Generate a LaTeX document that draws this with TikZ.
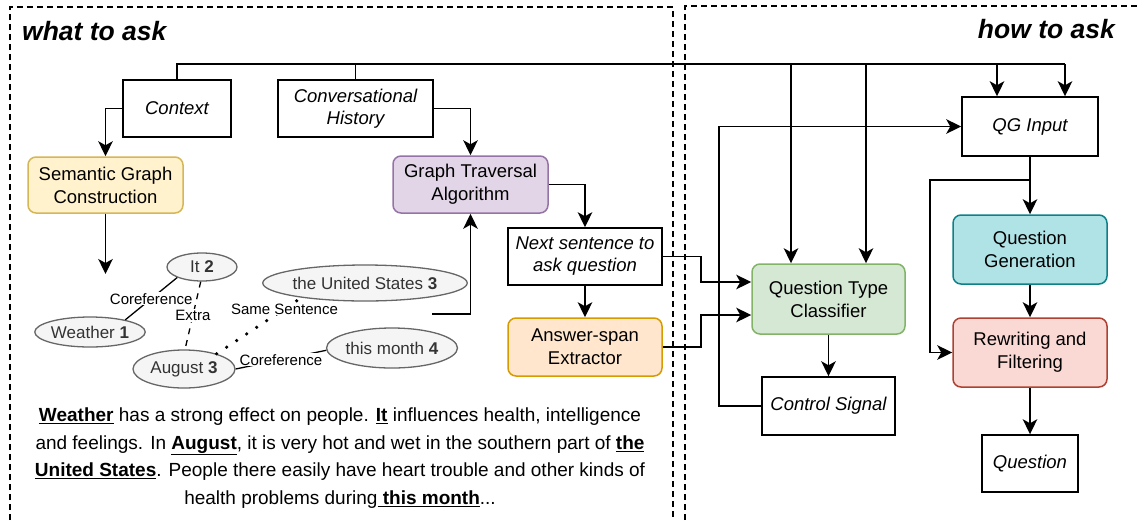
\documentclass[tikz,border=0pt]{standalone}
\usepackage{fontspec}
\setmainfont{Liberation Sans}
\usetikzlibrary{arrows.meta,calc,shapes.geometric}
\definecolor{yelF}{HTML}{FFF2CC}\definecolor{yelD}{HTML}{D6B656}
\definecolor{purF}{HTML}{E1D5E7}\definecolor{purD}{HTML}{9673A6}
\definecolor{oraF}{HTML}{FFE6CC}\definecolor{oraD}{HTML}{D79B00}
\definecolor{greF}{HTML}{D5E8D4}\definecolor{greD}{HTML}{82B366}
\definecolor{teaF}{HTML}{B0E3E6}\definecolor{teaD}{HTML}{0E8088}
\definecolor{redF}{HTML}{FAD9D5}\definecolor{redD}{HTML}{AE4132}
\definecolor{ellF}{HTML}{F5F5F5}\definecolor{ellD}{HTML}{666666}
\definecolor{ellT}{HTML}{333333}
\begin{document}
\begin{tikzpicture}[x=1pt,y=-1pt,line width=1.6pt,
  arr/.style={-{Stealth[length=15pt,width=14.5pt,inset=4pt]}},
  pbox/.style={draw,line width=1.5pt,font=\fontsize{18.5}{22}\selectfont\itshape,align=center,inner sep=0pt},
  rbox/.style={draw,rounded corners=8pt,line width=1.5pt,font=\fontsize{18.5}{23}\selectfont,align=center,inner sep=0pt},
  ell/.style={ellipse,draw=ellD,fill=ellF,line width=1.3pt,text=ellT,inner sep=0pt,font=\fontsize{17}{20}\selectfont},
  elab/.style={fill=white,inner sep=1pt,font=\fontsize{15}{17}\selectfont},
  frame/.style={dash pattern=on 6pt off 4pt,line width=1.4pt},
  title/.style={font=\fontsize{26.5}{30}\selectfont\bfseries\itshape}]
\useasboundingbox (0,0) rectangle (1140,520);
\clip (0,0) rectangle (1140,520);
% frames
\draw[frame] (10,540) -- (10,7) -- (673,7) -- (673,540);
\draw[frame] (685,540) -- (685,6) -- (1150,6);
\node[title,anchor=west] (t1) at (18,31) {what to ask};
\node[title,anchor=east] (t2) at (1119,29) {how to ask};
% nodes
\node[pbox,minimum width=108,minimum height=57] (ctx) at (177,108.5) {Context};
\node[pbox,minimum width=155,minimum height=57] (conv) at (355.5,108.5) {Conversational\\History};
\node[rbox,fill=yelF,draw=yelD,minimum width=155,minimum height=56] (sgc) at (105.5,185) {Semantic Graph\\Construction};
\node[rbox,fill=purF,draw=purD,minimum width=155,minimum height=57] (gta) at (470.5,184.5) {Graph Traversal\\Algorithm};
\node[pbox,minimum width=154,minimum height=57] (next) at (585,256.5) {Next sentence to\\ask question};
\node[rbox,fill=oraF,draw=oraD,minimum width=154,minimum height=58] (ase) at (585,347) {Answer-span\\Extractor};
\node[rbox,fill=greF,draw=greD,minimum width=153,minimum height=70] (qtc) at (828.5,299) {Question Type\\Classifier};
\node[pbox,minimum width=133,minimum height=58] (cs) at (828.5,406) {Control Signal};
\node[pbox,minimum width=136,minimum height=59] (qgi) at (1030,126.5) {QG Input};
\node[rbox,fill=teaF,draw=teaD,minimum width=154,minimum height=69] (qg) at (1030,249.5) {Question\\Generation};
\node[rbox,fill=redF,draw=redD,minimum width=154,minimum height=69] (rf) at (1030,352.5) {Rewriting and\\Filtering};
\node[pbox,minimum width=96,minimum height=57] (q) at (1030,463.5) {Question};
% graph
\node[ell,minimum width=70,minimum height=28] (it) at (202,267) {It \textbf{2}};
\node[ell,minimum width=105,minimum height=30] (wea) at (90,332) {Weather \textbf{1}};
\node[ell,minimum width=180,minimum height=36] (us) at (365,283) {the United States \textbf{3}};
\node[ell,minimum width=102,minimum height=38] (aug) at (184,369) {August \textbf{3}};
\node[ell,minimum width=127,minimum height=40] (tm) at (392,348) {this month \textbf{4}};
\draw[line width=1.3pt] (it.203) -- node[elab] {Coreference} (wea.19);
\draw[line width=1.3pt,dash pattern=on 6pt off 6pt] (it.265) -- node[elab] {Extra} (aug.87);
\draw[line width=3.6pt,line cap=round,dash pattern=on 0pt off 12pt] (aug.25) -- node[elab,pos=0.8] {Same Sentence} (us.193);
\draw[line width=1.3pt] (aug.east) -- node[elab] {Coreference} (tm.182);
% paragraph
\node[font=\fontsize{19}{27.5}\selectfont,align=center] (para) at (340,458)
 {\underline{\textbf{Weather}} has a strong effect on people. \underline{\textbf{It}} influences health, intelligence\\
  and feelings. In \underline{\textbf{August}}, it is very hot and wet in the southern part of \underline{\textbf{the}}\\
  \underline{\textbf{United States}}. People there easily have heart trouble and other kinds of\\
  health problems during\underline{ \textbf{this month}}...};
% connectors
\coordinate (top) at (0,64);
\coordinate (a1) at (791,64);
\coordinate (a2) at (866,64);
\coordinate (a3) at (997,64);
\coordinate (a4) at (1065,64);
\draw (ctx.north) -- (ctx.north |- top) -- (a4);
\draw (conv.north) -- (conv.north |- top);
\draw[arr] (a1) -- (a1 |- qtc.north);
\draw[arr] (a2) -- (a2 |- qtc.north);
\draw[arr] (a3) -- (a3 |- qgi.north);
\draw[arr] (a4) -- (a4 |- qgi.north);
\draw[arr] (ctx.west) -| (sgc.north);
\draw[arr] (conv.east) -| (gta.north);
\draw[arr] (gta.east) -| (next.north);
\draw[arr] (next) -- (ase);
\coordinate (g1) at (105.5,274);
\draw[arr] (sgc.south) -- (g1);
\coordinate (g0) at (432,314);
\draw[arr] (g0) -| (gta.south);
\draw[arr] (next.east) -- ++(38,0) |- ($(qtc.west)+(0,-17)$);
\draw[arr] (ase.east) -- ++(38,0) |- ($(qtc.west)+(0,16)$);
\draw[arr] (qtc) -- (cs);
\draw[arr] (cs.west) -- ++(-42,0) |- (qgi.west);
\draw[arr] (qgi) -- (qg);
\coordinate (b) at (1030,180);
\draw[arr] (b) -- ++(-100,0) |- (rf.west);
\draw[arr] (qg) -- (rf);
\draw[arr] (rf) -- (q);
\end{tikzpicture}
\end{document}
